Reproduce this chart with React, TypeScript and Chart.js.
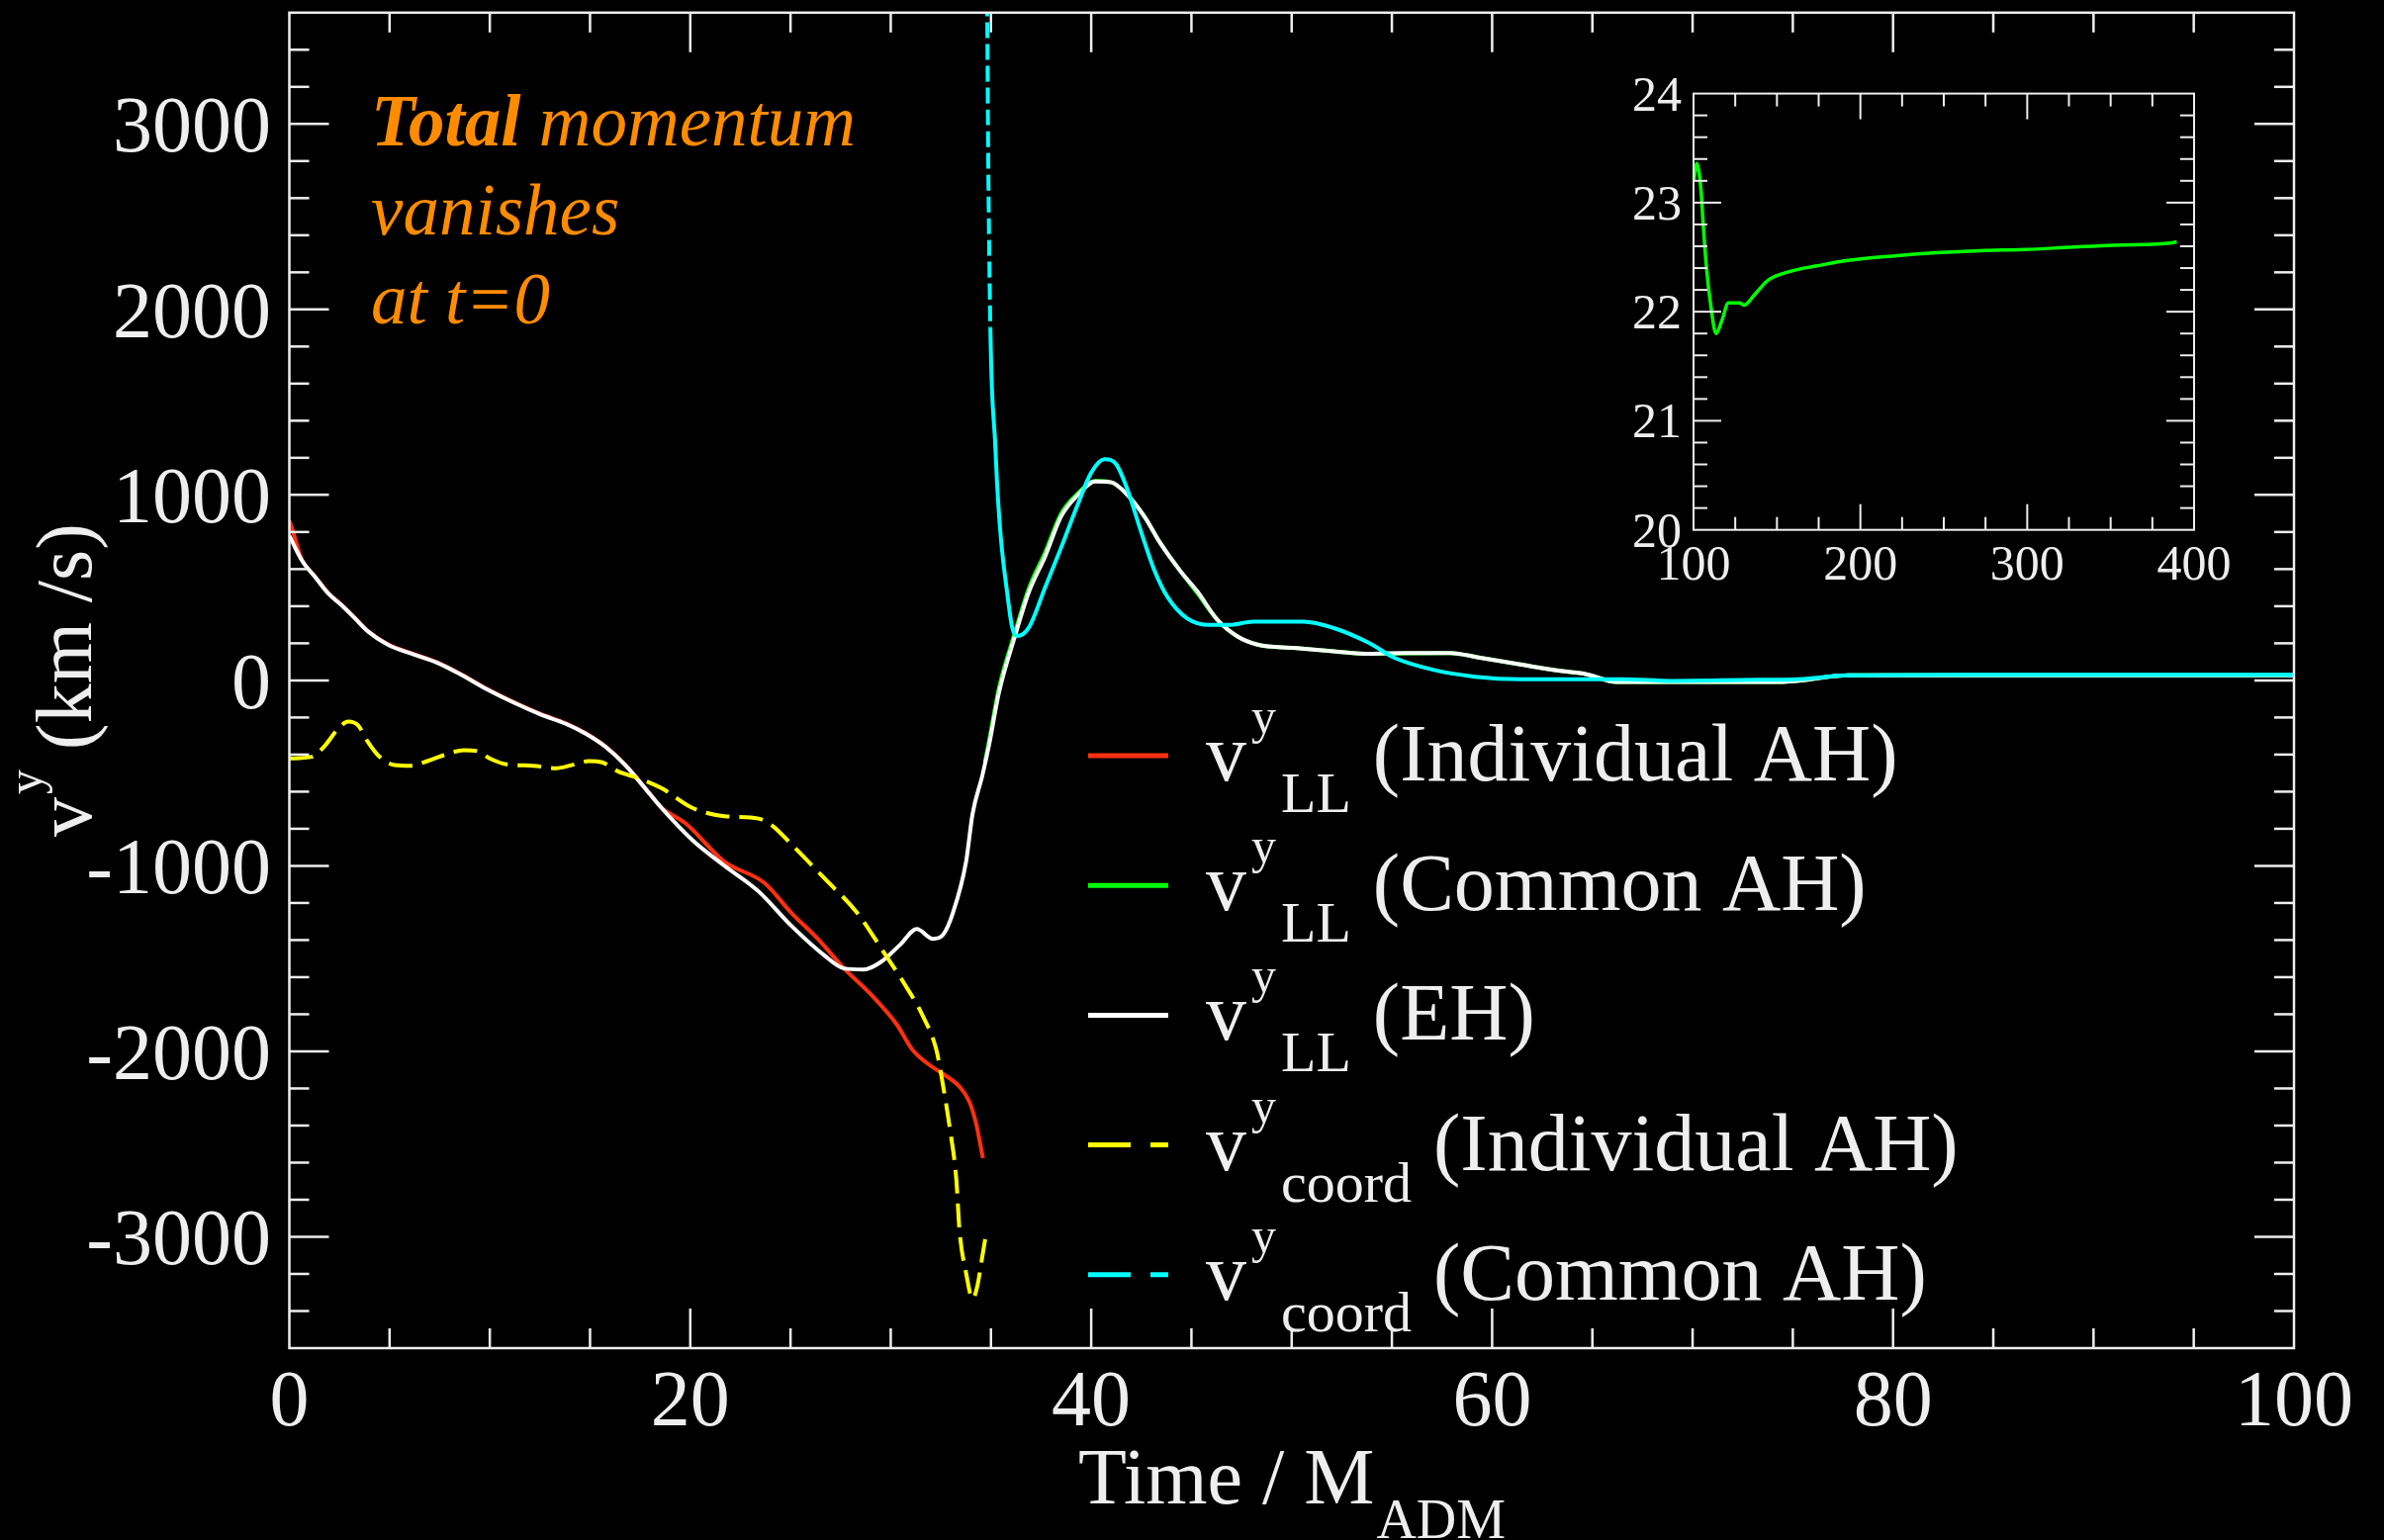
import React, { useEffect, useRef } from 'react';
import { Chart, registerables } from 'chart.js';

Chart.register(...registerables);

const W = 2410;
const H = 1557;
const SERIF = '"Liberation Serif", "DejaVu Serif", "Times New Roman", serif';

// ---------- main panel data (time / M_ADM, v^y in km/s) ----------
const redT = [0, 0.1, 0.63, 1.29, 1.95, 2.6, 3.27, 3.92, 4.91, 6.23, 7.38, 8.53, 9.84, 11.16, 12.48, 13.79, 14.78, 15.77, 16.75, 17.74, 18.56, 19.76, 21.7, 23.7, 25.05, 26.36, 27.67, 29.0, 30.3, 31.1, 31.95, 32.6, 33.43, 33.92, 34.25, 34.6];
const redV = [860, 830, 650, 560, 470, 408, 337, 266, 195, 141, 97, 35, -45, -116, -179, -232, -285, -356, -454, -579, -685, -770, -977, -1092, -1254, -1393, -1553, -1692, -1855, -1994, -2075, -2121, -2190, -2271, -2386, -2575];

const greenT = [34.7, 34.9, 35.4, 36.2, 36.9, 37.7, 38.5, 39.35, 40.2, 41.0, 41.8, 42.65, 43.45, 44.4, 45.3, 46.3, 47.3, 48.3, 50.1, 52.1, 53.9, 57.9, 59.4, 61.4, 63.4, 64.7, 66.2, 68.7, 74.5, 77.8, 100];
const greenV = [-440, -330, -40, 260, 500, 690, 900, 1010, 1075, 1068, 1000, 884, 740, 596, 470, 326, 237, 193, 175, 157, 143, 148, 122, 86, 51, 33, -8, -8, -8, 27, 28];

const whiteT = [0, 0.63, 1.29, 1.95, 2.6, 3.27, 3.92, 4.91, 6.23, 7.38, 8.53, 9.84, 11.16, 12.48, 13.79, 14.78, 15.77, 16.75, 17.74, 18.56, 20.1, 21.7, 23.4, 25.05, 26.7, 27.67, 28.65, 29.5, 30.47, 31.3, 32.1, 32.6, 33.1, 33.76, 34.08, 34.57, 34.9, 35.4, 36.2, 36.9, 37.7, 38.5, 39.35, 40.2, 41.0, 41.8, 42.65, 43.45, 44.4, 45.3, 46.3, 47.3, 48.3, 50.1, 52.1, 53.9, 55.6, 57.9, 59.4, 61.4, 63.4, 64.7, 66.2, 68.7, 74.5, 77.8, 100];
const whiteV = [780, 646, 557, 468, 406, 335, 264, 193, 139, 95, 33, -47, -118, -181, -234, -287, -358, -456, -581, -687, -860, -999, -1137, -1324, -1484, -1553, -1559, -1519, -1425, -1340, -1393, -1372, -1254, -977, -721, -513, -351, -65, 240, 479, 668, 884, 1001, 1073, 1068, 1001, 884, 740, 596, 479, 326, 237, 193, 175, 157, 143, 148, 148, 122, 86, 51, 33, -8, -8, -8, 27, 28];

const yellowT = [0, 1.13, 1.79, 2.36, 2.94, 3.43, 3.92, 4.42, 5.24, 6.06, 6.88, 7.71, 8.7, 9.35, 10.0, 10.83, 12.15, 13.3, 14.12, 14.94, 15.6, 16.42, 17.41, 18.56, 20.1, 21.7, 23.4, 24.05, 25.05, 26.7, 28.33, 29.63, 30.6, 31.6, 32.28, 32.6, 32.94, 33.27, 33.43, 33.76, 34.08, 34.32, 34.57, 34.75];
const yellowV = [-421, -412, -350, -270, -222, -243, -332, -403, -456, -460, -435, -403, -376, -381, -421, -453, -460, -474, -456, -435, -442, -492, -527, -581, -687, -732, -745, -780, -884, -1068, -1254, -1462, -1622, -1809, -1994, -2178, -2410, -2688, -2965, -3196, -3334, -3265, -3105, -2988];

const cyanT = [34.8, 34.85, 34.9, 34.97, 35.05, 35.2, 35.3, 35.5, 35.8, 36.05, 36.3, 36.9, 37.7, 38.5, 39.35, 40.0, 40.67, 41.23, 41.82, 42.46, 43.14, 43.8, 44.78, 45.9, 47.0, 48.07, 50.6, 52.1, 53.86, 55.12, 57.1, 59.14, 61.4, 66.45, 68.96, 73.25, 75.0, 77.8, 83.3, 100];
const cyanV = [3900, 3000, 2430, 1900, 1570, 1300, 1070, 760, 480, 290, 239, 287, 501, 716, 954, 1120, 1192, 1168, 1025, 811, 597, 451, 335, 299, 300, 317, 317, 282, 202, 122, 56, 20, 6, 6, -3, 3, 5, 27, 30, 30];

// ---------- inset data ----------
const insetT = [100.2, 102, 104.6, 105.7, 107.8, 110.4, 113.5, 117, 120.9, 127.6, 130.2, 136.8, 144.8, 158, 173.9, 192.5, 218.9, 245.3, 271.8, 298.3, 324.7, 351.3, 377.8, 385.8, 389.6];
const insetV = [23.2, 23.36, 23.09, 22.82, 22.4, 22.05, 21.8, 21.92, 22.08, 22.08, 22.06, 22.16, 22.29, 22.37, 22.42, 22.47, 22.51, 22.54, 22.56, 22.57, 22.59, 22.61, 22.62, 22.63, 22.64];

// ---------- ticks / labels ----------
const xTicks = [0, 20, 40, 60, 80, 100];
const yTicks = [-3000, -2000, -1000, 0, 1000, 2000, 3000];
const insetXTicks = [100, 200, 300, 400];
const insetYTicks = [20, 21, 22, 23, 24];

const legendColors = ['#ff3010', '#00ff00', '#ffffff', '#ffff00', '#00ffff'];
const legendDashed = [false, false, false, true, true];
const legendSubs = ['LL', 'LL', 'LL', 'coord', 'coord'];
const legendTexts = ['(Individual AH)', '(Common AH)', '(EH)', '(Individual AH)', '(Common AH)'];

const noteLines = ['vanishes', 'at t=0'];

const pts = (t: number[], v: number[]) => t.map((x, i) => ({ x, y: v[i] }));

const FG = '#eeeeee';

function line(c: CanvasRenderingContext2D, x1: number, y1: number, x2: number, y2: number) {
  c.beginPath();
  c.moveTo(x1, y1);
  c.lineTo(x2, y2);
  c.stroke();
}

const mainDecor = {
  id: 'mainDecor',
  beforeDraw(chart: any) {
    const c = chart.ctx;
    c.save();
    c.fillStyle = '#000';
    c.fillRect(0, 0, chart.width, chart.height);
    c.restore();
  },
  afterDraw(chart: any) {
    const c: CanvasRenderingContext2D = chart.ctx;
    const { left, right, top, bottom } = chart.chartArea;
    const xs = chart.scales.x;
    const ys = chart.scales.y;
    c.save();
    c.strokeStyle = FG;
    c.lineWidth = 2.5;
    c.strokeRect(left, top, right - left, bottom - top);
    // x ticks every 5, major every 20
    for (let k = 1; k < 20; k++) {
      const v = k * 5;
      const px = xs.getPixelForValue(v);
      const len = v % 20 === 0 ? 40 : 20;
      line(c, px, bottom, px, bottom - len);
      line(c, px, top, px, top + len);
    }
    // y ticks every 200, major every 1000
    for (let k = -17; k <= 17; k++) {
      const v = k * 200;
      const py = ys.getPixelForValue(v);
      const len = v % 1000 === 0 ? 40 : 20;
      line(c, left, py, left + len, py);
      line(c, right, py, right - len, py);
    }
    // tick labels
    c.fillStyle = FG;
    c.font = `80px ${SERIF}`;
    c.textBaseline = 'alphabetic';
    c.textAlign = 'center';
    xTicks.forEach((v) => c.fillText(String(v), xs.getPixelForValue(v), 1441));
    c.textAlign = 'right';
    yTicks.forEach((v) => c.fillText(String(v), 274, ys.getPixelForValue(v) + 28));

    // x axis title
    c.textAlign = 'left';
    c.font = `80px ${SERIF}`;
    const xt = 'Time / M';
    c.fillText(xt, 1090, 1520);
    const xtw = c.measureText(xt).width;
    c.font = `56px ${SERIF}`;
    c.fillText('ADM', 1090 + xtw + 2, 1555);

    // y axis title (rotated)
    c.save();
    c.translate(92, 846);
    c.rotate(-Math.PI / 2);
    c.font = `80px ${SERIF}`;
    c.fillText('v', 0, 0);
    const vw = c.measureText('v').width;
    c.font = `50px ${SERIF}`;
    c.fillText('y', vw + 3, -50);
    const yw = c.measureText('y').width;
    c.font = `80px ${SERIF}`;
    c.fillText(' (km /s)', vw + 3 + yw, 0);
    c.restore();

    // annotation
    c.fillStyle = '#ff8c00';
    c.font = `italic bold 73px ${SERIF}`;
    c.fillText('Total', 375, 147);
    const tw = c.measureText('Total').width;
    c.font = `italic 73px ${SERIF}`;
    c.fillText(' momentum', 375 + tw, 147);
    c.fillText(noteLines[0], 375, 237);
    c.fillText(noteLines[1], 375, 326.5);

    // legend
    for (let i = 0; i < legendTexts.length; i++) {
      const ly = 764 + i * 131.2;
      c.strokeStyle = legendColors[i];
      c.lineWidth = 5;
      c.setLineDash(legendDashed[i] ? [43, 20] : []);
      line(c, 1100, ly, 1181, ly);
      c.setLineDash([]);
      c.fillStyle = FG;
      c.font = `82px ${SERIF}`;
      c.fillText('v', 1219, ly + 25);
      c.font = `50px ${SERIF}`;
      c.fillText('y', 1265, ly - 23);
      c.font = `58px ${SERIF}`;
      c.fillText(legendSubs[i], 1295, ly + 57);
      const sw = c.measureText(legendSubs[i]).width;
      c.font = `82px ${SERIF}`;
      c.fillText(legendTexts[i], 1295 + sw + 22, ly + 25);
    }
    c.restore();
  },
};

const insetDecor = {
  id: 'insetDecor',
  afterDraw(chart: any) {
    const c: CanvasRenderingContext2D = chart.ctx;
    const { left, right, top, bottom } = chart.chartArea;
    const xs = chart.scales.x;
    const ys = chart.scales.y;
    c.save();
    c.strokeStyle = FG;
    c.lineWidth = 2;
    c.strokeRect(left, top, right - left, bottom - top);
    for (let k = 1; k < 12; k++) {
      const v = 100 + k * 25;
      const px = xs.getPixelForValue(v);
      const len = v % 100 === 0 ? 26 : 13;
      line(c, px, bottom, px, bottom - len);
      line(c, px, top, px, top + len);
    }
    for (let k = 1; k < 20; k++) {
      const v = 20 + k * 0.2;
      const py = ys.getPixelForValue(v);
      const len = k % 5 === 0 ? 28 : 14;
      line(c, left, py, left + len, py);
      line(c, right, py, right - len, py);
    }
    c.fillStyle = FG;
    c.font = `50px ${SERIF}`;
    c.textAlign = 'center';
    insetXTicks.forEach((v) => c.fillText(String(v), xs.getPixelForValue(v), 526));
    c.textAlign = 'right';
    insetYTicks.forEach((v) => c.fillText(String(v), 100, ys.getPixelForValue(v) + 17));
    c.restore();
  },
};

export default function App() {
  const mainRef = useRef<HTMLCanvasElement>(null);
  const insetRef = useRef<HTMLCanvasElement>(null);

  useEffect(() => {
    document.body.style.margin = '0';
    document.body.style.background = '#000';
    const common = {
      pointRadius: 0,
      borderWidth: 4,
      fill: false,
      cubicInterpolationMode: 'monotone' as const,
    };
    const main = new Chart(mainRef.current as HTMLCanvasElement, {
      type: 'line',
      data: {
        datasets: [
          { ...common, label: 'red', data: pts(redT, redV), borderColor: '#ff3010', order: 5 },
          { ...common, label: 'green', data: pts(greenT, greenV), borderColor: '#00ff00', order: 4 },
          { ...common, label: 'white', data: pts(whiteT, whiteV), borderColor: '#ffffff', order: 3 },
          { ...common, label: 'yellow', data: pts(yellowT, yellowV), borderColor: '#ffff00', borderDash: [24, 10], order: 2 },
          {
            ...common,
            label: 'cyan',
            data: pts(cyanT, cyanV),
            borderColor: '#00ffff',
            order: 1,
            segment: { borderDash: (ctx: any) => (ctx.p0.parsed.y > 2400 ? [16, 6] : undefined) },
          },
        ] as any,
      },
      options: {
        responsive: false,
        animation: false,
        devicePixelRatio: 1,
        events: [],
        layout: { padding: { left: 292.5, right: 91, top: 12.8, bottom: 194 } },
        scales: {
          x: { type: 'linear', min: 0, max: 100, display: false },
          y: { type: 'linear', min: -3600, max: 3600, display: false },
        },
        plugins: { legend: { display: false }, tooltip: { enabled: false } },
      },
      plugins: [mainDecor],
    });

    const inset = new Chart(insetRef.current as HTMLCanvasElement, {
      type: 'line',
      data: {
        datasets: [
          {
            label: 'inset',
            data: pts(insetT, insetV),
            borderColor: '#00ff00',
            borderWidth: 3.5,
            pointRadius: 0,
            fill: false,
            cubicInterpolationMode: 'monotone',
          },
        ] as any,
      },
      options: {
        responsive: false,
        animation: false,
        devicePixelRatio: 1,
        events: [],
        layout: { padding: { left: 112, right: 82, top: 34.6, bottom: 84.3 } },
        scales: {
          x: { type: 'linear', min: 100, max: 400, display: false },
          y: { type: 'linear', min: 20, max: 24, display: false },
        },
        plugins: { legend: { display: false }, tooltip: { enabled: false } },
      },
      plugins: [insetDecor],
    });

    return () => {
      main.destroy();
      inset.destroy();
    };
  }, []);

  return (
    <div style={{ position: 'absolute', left: 0, top: 0, width: W, height: H, background: '#000', overflow: 'hidden' }}>
      <canvas ref={mainRef} width={W} height={H} style={{ position: 'absolute', left: 0, top: 0, width: W, height: H }} />
      <canvas ref={insetRef} width={700} height={560} style={{ position: 'absolute', left: 1600, top: 60, width: 700, height: 560 }} />
    </div>
  );
}
